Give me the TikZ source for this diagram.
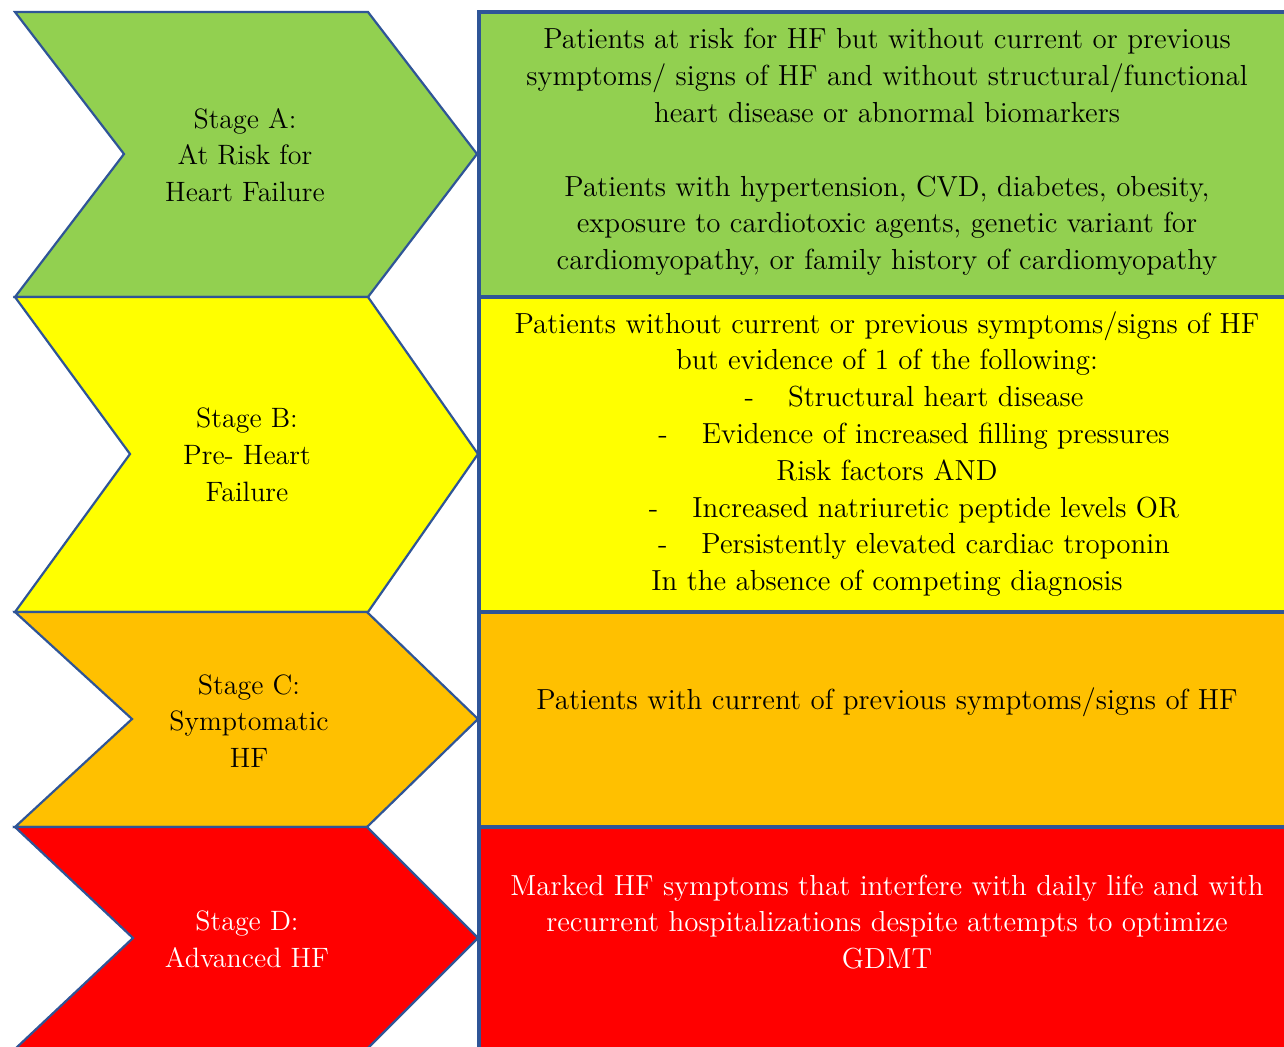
\documentclass[tikz,border=0pt]{standalone}
\usepackage{fontspec}
\definecolor{stagegreen}{HTML}{92D050}
\definecolor{stageyellow}{HTML}{FFFF00}
\definecolor{stageorange}{HTML}{FFC000}
\definecolor{stagered}{HTML}{FF0000}
\definecolor{edgeblue}{HTML}{2F5597}
\tikzset{
    chevron/.style={draw=edgeblue, line width=1.1pt, line join=miter},
    panel/.style={draw=edgeblue, line width=1.6pt},
    stagetext/.style={align=center, inner sep=0pt, font={\fontsize{14}{18.4}\selectfont\rmfamily}},
    desctext/.style={align=center, inner sep=0pt, font={\fontsize{14.5}{18.4}\selectfont\rmfamily}},
}
\begin{document}
\begin{tikzpicture}[x=0.5pt, y=-0.5pt]
    \useasboundingbox (0,0) rectangle (1284,1046);

    % description panels
    \draw [panel, fill=stagegreen]  (479,12)  rectangle (1300,297);
    \draw [panel, fill=stageyellow] (479,297) rectangle (1300,612);
    \draw [panel, fill=stageorange] (479,612) rectangle (1300,827);
    \draw [panel, fill=stagered]    (479,827) rectangle (1300,1070);

    % stage chevrons
    \draw [chevron, fill=stagegreen] (15,12) -- (368,12) -- (477,154)
        -- (368,297) -- (15,297) -- (124,154) -- cycle;
    \draw [chevron, fill=stageyellow] (15,297) -- (368,297) -- (478,454)
        -- (368,612) -- (15,612) -- (130,454) -- cycle;
    \draw [chevron, fill=stageorange] (15,612) -- (367,612) -- (478,719)
        -- (367,827) -- (15,827) -- (132,719) -- cycle;
    \draw [chevron, fill=stagered] (15,827) -- (367,827) -- (478,938)
        -- (367,1049) -- (15,1049) -- (133,938) -- cycle;

    \node [stagetext] (stageA) at (245,155) {Stage A:\\At Risk for\\Heart Failure};
    \node [stagetext] (stageB) at (247,455) {Stage B:\\Pre- Heart\\Failure};
    \node [stagetext] (stageC) at (249,721) {Stage C:\\Symptomatic\\HF};
    \node [stagetext, text=white] (stageD) at (247,939) {Stage D:\\Advanced HF};

    \node [desctext] (descA) at (887,152) {%
        Patients at risk for HF but without current or previous\\
        symptoms/ signs of HF and without structural/functional\\
        heart disease or abnormal biomarkers\\[18.4pt]
        Patients with hypertension, CVD, diabetes, obesity,\\
        exposure to cardiotoxic agents, genetic variant for\\
        cardiomyopathy, or family history of cardiomyopathy};
    \node [desctext] (descB) at (887,454) {%
        Patients without current or previous symptoms/signs of HF\\
        but evidence of 1 of the following:\\
        \hspace*{27pt}-\hspace{17pt}Structural heart disease\\
        \hspace*{27pt}-\hspace{17pt}Evidence of increased filling pressures\\
        Risk factors AND\\
        \hspace*{27pt}-\hspace{17pt}Increased natriuretic peptide levels OR\\
        \hspace*{27pt}-\hspace{17pt}Persistently elevated cardiac troponin\\
        In the absence of competing diagnosis};
    \node [desctext] (descC) at (887,702) {%
        Patients with current of previous symptoms/signs of HF};
    \node [desctext, text=white] (descD) at (887,922) {%
        Marked HF symptoms that interfere with daily life and with\\
        recurrent hospitalizations despite attempts to optimize\\
        GDMT};
\end{tikzpicture}
\end{document}
